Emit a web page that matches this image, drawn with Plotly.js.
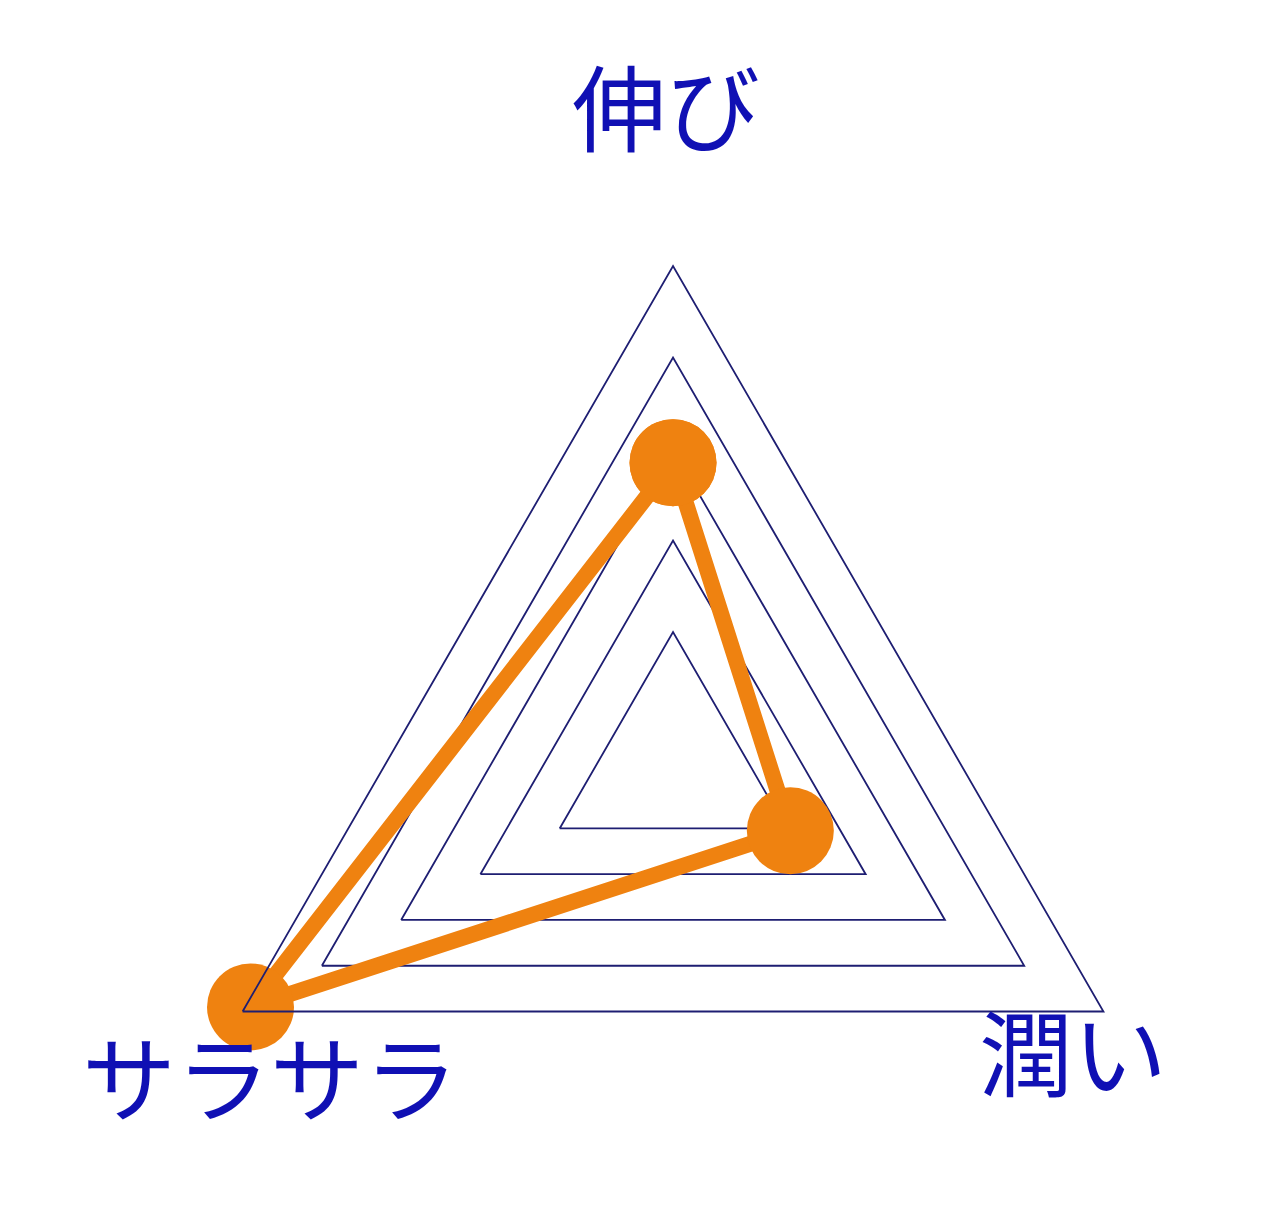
<!DOCTYPE html>
<html>
<head>
<meta charset="utf-8">
<script src="https://cdn.plot.ly/plotly-3.0.1.min.js"></script>
<style>
  html, body { margin: 0; padding: 0; overflow: hidden; background: #fff; }
  #chart { width: 1280px; height: 1260px; }
</style>
</head>
<body>
<div id="chart"></div>
<script>
// axes of the radar chart (clockwise from the top)
var categories = ["伸び", "潤い", "サラサラ"];
// score on each axis
var values = [2.85, 1.05, 4.9];
// grid rings
var gridTicks = [1, 2, 3, 4];

// where each axis label sits on the page (paper coords)
var labelX = [0.5205, 0.8383, 0.2109];
var labelY = [0.9175, 0.1675, 0.1480];

// close the loop
var theta = categories.concat([categories[0]]);
var r = values.concat([values[0]]);

var trace1 = {
    type: "scatterpolar",
    r: r,
    theta: theta,
    mode: "lines+markers",
    line: { color: "#ef8210", width: 16 },
    marker: { color: "#ef8210", size: 87 },
    hoverinfo: "none",
    showlegend: false
};

var annotations = categories.map(function (c, i) {
    return {
        text: c,
        x: labelX[i],
        y: labelY[i],
        xref: "paper",
        yref: "paper",
        xanchor: "center",
        yanchor: "middle",
        showarrow: false,
        font: { family: "Noto Sans CJK JP", size: 94, color: "#1010b4" }
    };
});

var layout = {
    width: 1280,
    height: 1260,
    margin: { l: 0, r: 0, t: 0, b: 0 },
    paper_bgcolor: "#ffffff",
    showlegend: false,
    annotations: annotations,
    polar: {
        domain: { x: [0.1375, 0.9141], y: [0, 0.7889] },
        bgcolor: "rgba(0,0,0,0)",
        gridshape: "linear",
        radialaxis: {
            range: [-0.43, 5],
            tickvals: gridTicks,
            showticklabels: false,
            ticks: "",
            showline: false,
            gridcolor: "#1e1e72",
            gridwidth: 1.8
        },
        angularaxis: {
            type: "category",
            categoryarray: categories,
            rotation: 90,
            direction: "clockwise",
            showgrid: false,
            showticklabels: false,
            ticks: "",
            showline: true,
            linecolor: "#1e1e72",
            linewidth: 1.8
        }
    }
};

Plotly.newPlot("chart", [trace1], layout, { staticPlot: true });
</script>
</body>
</html>
